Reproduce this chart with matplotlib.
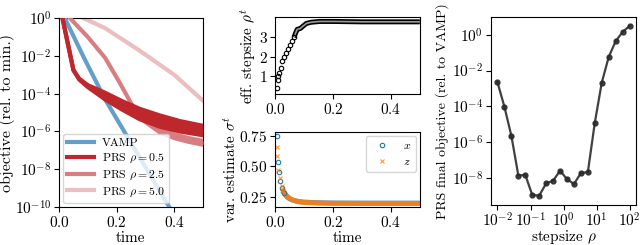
import numpy as np
import matplotlib
matplotlib.use("Agg")
import matplotlib.pyplot as plt
from matplotlib.ticker import LogLocator, NullFormatter

plt.rcParams['font.family'] = 'serif'
plt.rcParams['font.serif'] = ['cmr10']
plt.rcParams['mathtext.fontset'] = 'cm'
plt.rcParams['axes.formatter.use_mathtext'] = True
plt.rcParams['font.size'] = 11
plt.rcParams['axes.unicode_minus'] = True
plt.rcParams['xtick.major.pad'] = 2.0
plt.rcParams['ytick.major.pad'] = 2.0
plt.rcParams['axes.labelpad'] = 1.0

# ---- panel 1: objective vs time (log10 of objective) ----
vamp_t = [0.020, 0.09, 0.16, 0.383, 0.42]
vamp_y = [0.0, -2.2, -4.3, -10.0, -11.0]

prs05_t = [0.012, 0.03, 0.05, 0.07, 0.10, 0.16, 0.22, 0.28, 0.35, 0.42, 0.50]
prs05_up = [0.0, -1.3, -2.75, -3.2, -3.55, -3.95, -4.4, -4.8, -5.15, -5.45, -5.7]
prs05_lo = [0.0, -1.3, -2.75, -3.25, -3.65, -4.3, -4.85, -5.35, -5.75, -6.0, -6.2]

prs25_t = [0.038, 0.10, 0.16, 0.21, 0.25, 0.27]
prs25_y = [0.0, -1.0, -2.1, -3.4, -4.5, -5.0]
prs25_bt = [0.27, 0.30, 0.35, 0.40, 0.45, 0.50]
prs25_up = [-5.0, -5.4, -5.85, -6.15, -6.35, -6.5]
prs25_lo = [-5.0, -5.5, -6.05, -6.35, -6.55, -6.7]

prs50_t = [0.085, 0.16, 0.276, 0.40, 0.50]
prs50_y = [0.0, -0.53, -1.68, -3.0, -4.37]

# ---- panel 2: effective stepsize ----
rho_t_early = [0.006, 0.008, 0.010, 0.014, 0.019, 0.023, 0.030, 0.037, 0.044, 0.050, 0.058, 0.065]
rho_v_early = [0.37, 0.8, 1.0, 1.15, 1.4, 1.77, 2.0, 2.2, 2.4, 2.6, 2.8, 3.0]
rho_t_dense = [0.065, 0.07, 0.076, 0.087, 0.098, 0.108, 0.125, 0.154, 0.2, 0.3, 0.4, 0.5]
rho_v_dense = [3.0, 3.2, 3.41, 3.46, 3.6, 3.72, 3.78, 3.82, 3.82, 3.8, 3.8, 3.8]

# ---- panel 3: variance estimates ----
sx_t_early = [0.007, 0.008, 0.014, 0.018, 0.024, 0.030]
sx_v_early = [0.75, 0.537, 0.45, 0.38, 0.32, 0.283]
sx_t_dense = [0.030, 0.04, 0.05, 0.06, 0.08, 0.10, 0.15, 0.2, 0.3, 0.5]
sx_v_dense = [0.283, 0.25, 0.232, 0.222, 0.21, 0.205, 0.2, 0.198, 0.197, 0.197]
sz_t_early = [0.005, 0.007, 0.010, 0.016, 0.022, 0.028]
sz_v_early = [0.66, 0.58, 0.47, 0.40, 0.34, 0.30]
sz_t_dense = [0.028, 0.035, 0.045, 0.055, 0.07, 0.09, 0.12, 0.16, 0.2, 0.3, 0.5]
sz_v_dense = [0.30, 0.27, 0.245, 0.228, 0.215, 0.205, 0.2, 0.197, 0.195, 0.194, 0.194]

# ---- panel 4: final objective vs stepsize ----
stepsizes = [0.01, 0.0162, 0.0264, 0.0428, 0.0695, 0.113, 0.183, 0.298, 0.483, 0.785,
             1.27, 2.07, 3.36, 5.46, 8.86, 14.4, 23.4, 37.9, 61.6, 100.0]
final_obj = [2.2e-3, 9.5e-5, 2.2e-6, 1.35e-8, 1.45e-8, 1.1e-9, 1.0e-9, 4.9e-9, 6.9e-9, 2.5e-8,
             8.5e-9, 4.5e-9, 1.85e-8, 2.1e-8, 1.2e-5, 2.1e-3, 5.8e-2, 0.43, 1.45, 3.1]

c_vamp = '#629fca'
c_05 = '#be282d'
c_25 = '#d87e81'
c_50 = '#ecbebf'

fig = plt.figure(figsize=(6.4, 2.45), dpi=100)
ax1 = fig.add_axes([0.0922, 0.155, 0.225, 0.771])
ax2 = fig.add_axes([0.430, 0.615, 0.226, 0.314])
ax3 = fig.add_axes([0.430, 0.154, 0.226, 0.306])
ax4 = fig.add_axes([0.767, 0.163, 0.227, 0.768])

lw = 3
p10 = lambda a: 10.0 ** np.asarray(a)
ax1.plot(prs50_t, p10(prs50_y), color=c_50, lw=lw, label=r'PRS $\rho = 5.0$', zorder=2)
ax1.plot(prs25_t, p10(prs25_y), color=c_25, lw=lw, label=r'PRS $\rho = 2.5$', zorder=3)
ax1.fill_between(prs25_bt, p10(prs25_lo), p10(prs25_up), color=c_25, lw=0, zorder=3)
ax1.plot(prs25_bt, p10(prs25_up), color=c_25, lw=lw, zorder=3)
ax1.plot(prs25_bt, p10(prs25_lo), color=c_25, lw=lw, zorder=3)
ax1.plot(vamp_t, p10(vamp_y), color=c_vamp, lw=lw, label='VAMP', zorder=4)
ax1.fill_between(prs05_t, p10(prs05_lo), p10(prs05_up), color=c_05, lw=0, zorder=5)
ax1.plot(prs05_t, p10(prs05_up), color=c_05, lw=lw, label=r'PRS $\rho = 0.5$', zorder=5)
ax1.plot(prs05_t, p10(prs05_lo), color=c_05, lw=lw, zorder=5)
ax1.set_yscale('log')
ax1.set_ylim(1e-10, 1)
ax1.set_xlim(0, 0.5)
ax1.set_yticks([1e0, 1e-2, 1e-4, 1e-6, 1e-8, 1e-10])
ax1.yaxis.set_minor_locator(LogLocator(base=10, subs='auto', numticks=20))
ax1.yaxis.set_minor_formatter(NullFormatter())
ax1.tick_params(axis='y', which='minor', length=0)
ax1.set_xticks([0.0, 0.2, 0.4])
ax1.set_xlabel('time')
ax1.set_ylabel('objective (rel. to min.)', fontsize=11.5, labelpad=0.0)
h, l = ax1.get_legend_handles_labels()
order = [l.index('VAMP'), l.index(r'PRS $\rho = 0.5$'), l.index(r'PRS $\rho = 2.5$'), l.index(r'PRS $\rho = 5.0$')]
ax1.legend([h[i] for i in order], [l[i] for i in order], loc='lower left', fontsize=8.5,
           labelspacing=0.3, handlelength=2.3, handletextpad=0.6,
           borderaxespad=0.35, borderpad=0.35)

ax2.plot(rho_t_dense, rho_v_dense, color='k', lw=3.6, solid_capstyle='butt')
ax2.plot(rho_t_dense, rho_v_dense, color='#9a9a9a', lw=1.2, solid_capstyle='butt')
ax2.plot(rho_t_early, rho_v_early, 'o', ms=3.2, mfc='none', mec='k', mew=0.8)
ax2.set_xlim(0, 0.5)
ax2.set_ylim(0.05, 4.03)
ax2.set_yticks([1, 2, 3])
ax2.set_xticks([0.0, 0.2, 0.4])
ax2.set_ylabel(r'eff. stepsize $\rho^t$', labelpad=0.5)

ax3.plot(sx_t_dense, sx_v_dense, color='C0', lw=3.6, alpha=0.8)
ax3.plot(sz_t_dense, sz_v_dense, color='C1', lw=3.6, alpha=0.9)
ax3.plot(sx_t_early, sx_v_early, 'o', ms=3.2, mfc='none', mec='C0', mew=0.8, label='$x$')
ax3.plot(sz_t_early, sz_v_early, 'x', ms=3.2, color='C1', mew=0.8, alpha=0.8, label='$z$')
ax3.set_xlim(0, 0.5)
ax3.set_ylim(0.163, 0.778)
ax3.set_yticks([0.25, 0.50, 0.75])
ax3.set_xticks([0.0, 0.2, 0.4])
ax3.set_xlabel('time')
ax3.set_ylabel(r'var. estimate $\sigma^t$', labelpad=0.0)
ax3.legend(loc='upper right', fontsize=8.5, numpoints=1, handlelength=2.0, borderaxespad=0.3,
           labelspacing=0.5, borderpad=0.4)

ax4.plot(stepsizes, final_obj, '-o', color='#2b2b2b', lw=1.6, ms=3.5, alpha=0.9)
ax4.set_xscale('log')
ax4.set_yscale('log')
ax4.set_ylim(3e-10, 10)
ax4.set_yticks([1e0, 1e-2, 1e-4, 1e-6, 1e-8])
ax4.yaxis.set_minor_formatter(NullFormatter())
ax4.tick_params(axis='y', which='minor', length=0)
ax4.tick_params(axis='x', pad=1.0)
ax4.set_xticks([1e-2, 1e-1, 1e0, 1e1, 1e2])
ax4.set_xlabel(r'stepsize $\rho$', labelpad=-1.0)
ax4.set_ylabel('PRS final objective (rel. to VAMP)', fontsize=10, labelpad=2.0)

fig.savefig('out.png', dpi=100)
